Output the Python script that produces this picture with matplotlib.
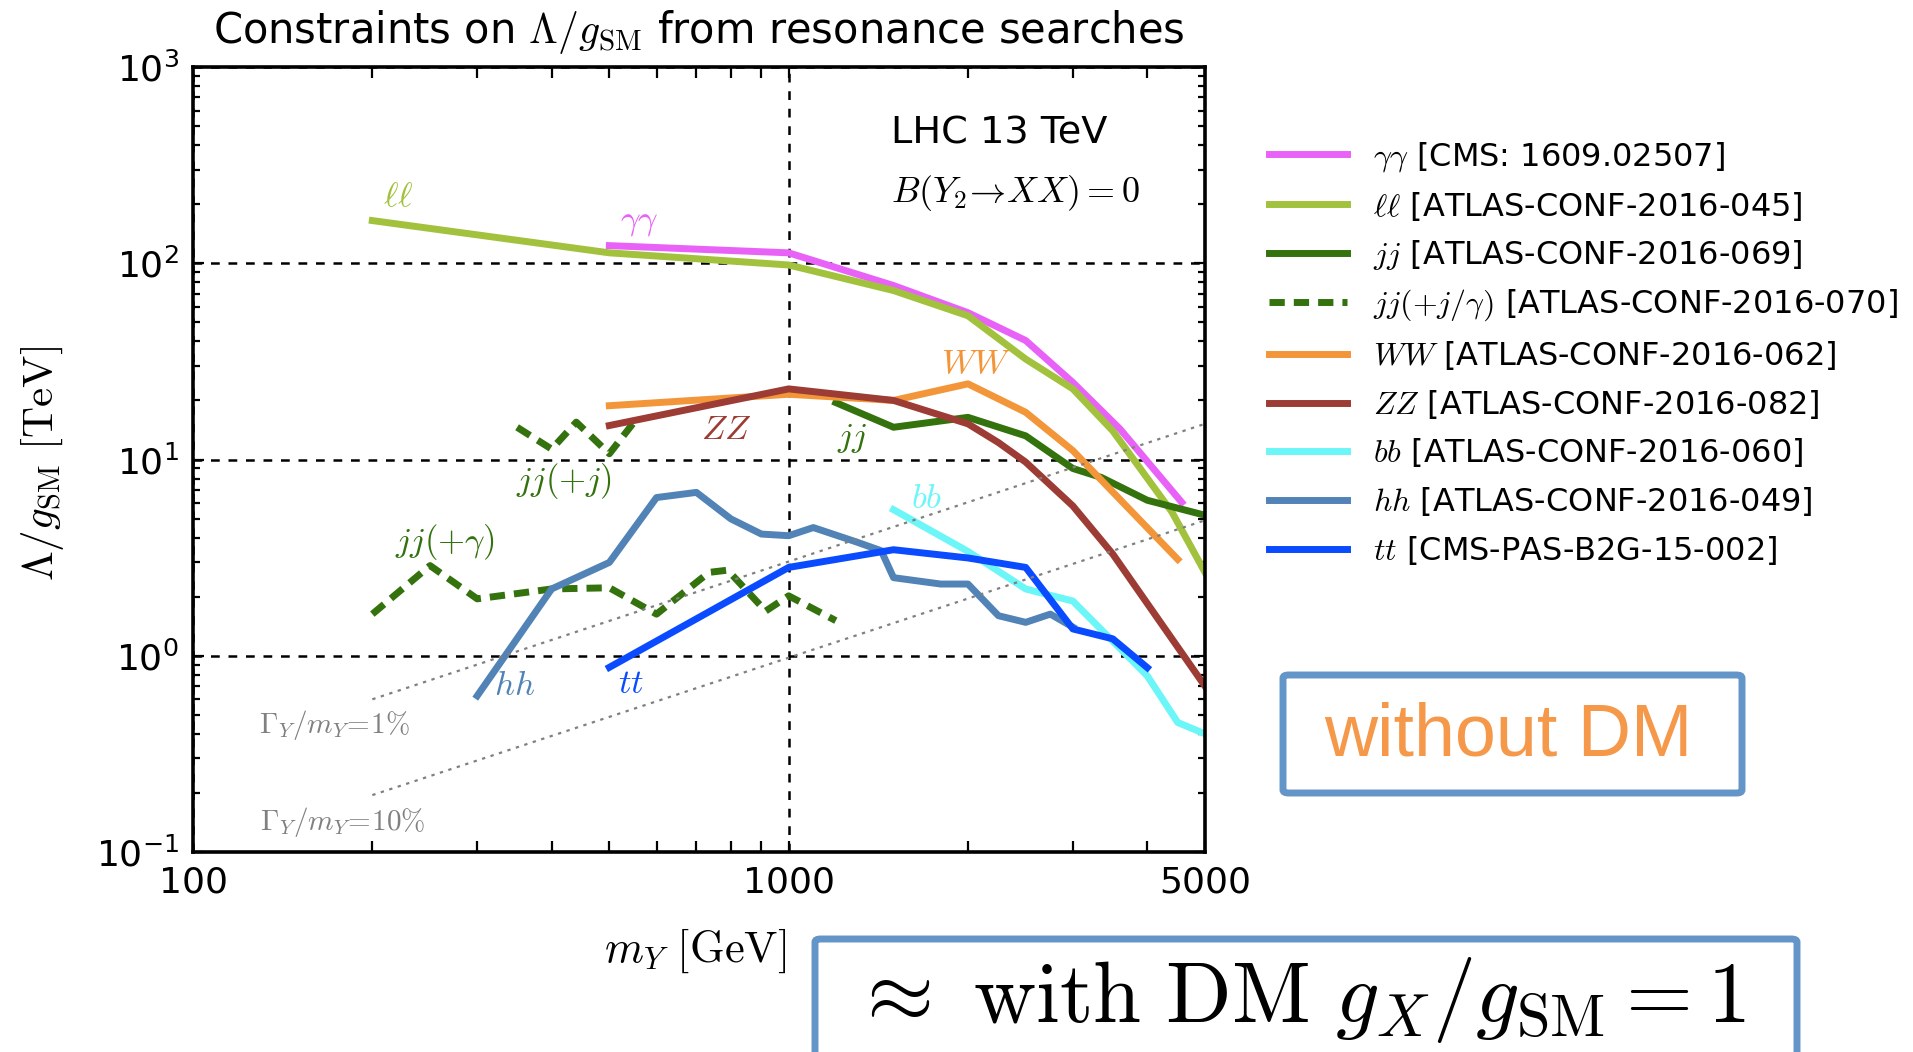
import matplotlib
matplotlib.use("Agg")
import matplotlib.pyplot as plt
from matplotlib.patches import FancyBboxPatch
from matplotlib.ticker import FixedLocator, LogLocator, NullFormatter, FixedFormatter

plt.rcParams["mathtext.fontset"] = "cm"
plt.rcParams["font.family"] = "DejaVu Sans"

# --- data (m_Y in GeV, Lambda/g_SM in TeV) ---
gg_m = [500, 1000, 1500, 2000, 2500, 3000, 3600, 4570]
gg_v = [123, 113, 77, 56, 40.4, 24.7, 14.3, 6.05]

ll_m = [200, 500, 1000, 1500, 2000, 2500, 3000, 3500, 4400, 5000]
ll_v = [165, 113, 98, 72.6, 54, 32.5, 22.9, 14.0, 5.4, 2.66]

jj_m = [1200, 1500, 2000, 2500, 3000, 3350, 4000, 5000]
jj_v = [19.5, 14.6, 16.4, 13.2, 9.0, 8.1, 6.2, 5.2]

jjj_m = [350, 400, 440, 500, 550]
jjj_v = [14.6, 11.3, 15.5, 10.7, 15.5]

jjg_m = [200, 250, 300, 400, 500, 600, 735, 790, 915, 1000, 1200]
jjg_v = [1.63, 2.88, 1.95, 2.19, 2.22, 1.63, 2.66, 2.73, 1.69, 2.02, 1.51]

ww_m = [500, 1000, 1500, 2000, 2500, 3000, 4500]
ww_v = [18.8, 21.5, 20.0, 24.3, 17.4, 11.1, 3.1]

zz_m = [500, 1000, 1500, 2000, 2250, 2500, 3000, 3500, 5000]
zz_v = [14.9, 22.9, 20.0, 15.2, 12.2, 9.7, 5.8, 3.3, 0.70]

bb_m = [1500, 2000, 2500, 3000, 4000, 4500, 5000]
bb_v = [5.55, 3.4, 2.19, 1.9, 0.79, 0.457, 0.40]

hh_m = [300, 400, 500, 600, 700, 800, 900, 1000, 1100, 1300, 1430, 1500,
        1800, 2000, 2250, 2500, 2750, 3000]
hh_v = [0.625, 2.19, 2.99, 6.4, 6.8, 4.98, 4.17, 4.09, 4.5, 3.8, 3.43, 2.5,
        2.32, 2.32, 1.6, 1.48, 1.63, 1.4]

tt_m = [500, 1000, 1500, 2000, 2500, 3000, 3500, 4000]
tt_v = [0.873, 2.82, 3.47, 3.15, 2.82, 1.37, 1.22, 0.87]

width_m = [200, 5000]
width_1pc = [0.6, 15.2]
width_10pc = [0.195, 4.9]

x_ticks = [100, 1000, 5000]
x_ticklabels = ["100", "1000", "5000"]

legend_labels = [
    r"$\gamma\gamma$ [CMS: 1609.02507]",
    r"$\ell\ell$ [ATLAS-CONF-2016-045]",
    r"$jj$ [ATLAS-CONF-2016-069]",
    r"$jj(+j/\gamma)$ [ATLAS-CONF-2016-070]",
    r"$WW$ [ATLAS-CONF-2016-062]",
    r"$ZZ$ [ATLAS-CONF-2016-082]",
    r"$bb$ [ATLAS-CONF-2016-060]",
    r"$hh$ [ATLAS-CONF-2016-049]",
    r"$tt$ [CMS-PAS-B2G-15-002]",
]

C_GG = "#E962F7"
C_LL = "#A2C23E"
C_JJ = "#33720D"
C_WW = "#F3963A"
C_ZZ = "#9C3C34"
C_BB = "#6CF6F8"
C_HH = "#5283B6"
C_TT = "#0A4BFF"

fig = plt.figure(figsize=(19.13, 10.52), dpi=100)
ax = fig.add_axes([0.1009, 0.1901, 0.529, 0.7462])

lw = 5
dash = (0, (2.2, 1.3))
ax.plot(gg_m, gg_v, color=C_GG, lw=lw, label=legend_labels[0])
ax.plot(ll_m, ll_v, color=C_LL, lw=lw, label=legend_labels[1])
ax.plot(jj_m, jj_v, color=C_JJ, lw=lw, label=legend_labels[2])
ax.plot(jjg_m, jjg_v, color=C_JJ, lw=lw, ls=dash, label=legend_labels[3])
ax.plot(jjj_m, jjj_v, color=C_JJ, lw=lw, ls=dash)
ax.plot(ww_m, ww_v, color=C_WW, lw=lw, label=legend_labels[4])
ax.plot(zz_m, zz_v, color=C_ZZ, lw=lw, label=legend_labels[5])
ax.plot(bb_m, bb_v, color=C_BB, lw=lw, label=legend_labels[6])
ax.plot(hh_m, hh_v, color=C_HH, lw=lw, label=legend_labels[7])
ax.plot(tt_m, tt_v, color=C_TT, lw=lw, label=legend_labels[8])

# width reference lines
ax.plot(width_m, width_1pc, color="gray", lw=1.6, ls=(0, (1.5, 2.5)))
ax.plot(width_m, width_10pc, color="gray", lw=1.6, ls=(0, (1.5, 2.5)))

ax.set_xscale("log")
ax.set_yscale("log")
ax.set_xlim(100, 5000)
ax.set_ylim(0.1, 1000)

ax.xaxis.set_major_locator(FixedLocator(x_ticks))
ax.xaxis.set_major_formatter(FixedFormatter(x_ticklabels))
ax.xaxis.set_minor_locator(LogLocator(base=10, subs=range(2, 10)))
ax.xaxis.set_minor_formatter(NullFormatter())
ax.yaxis.set_minor_formatter(NullFormatter())

ax.tick_params(which="both", direction="in", top=True, right=True, width=1.6)
ax.tick_params(which="major", length=8, labelsize=26)
ax.tick_params(axis="x", which="major", pad=10)
ax.tick_params(axis="y", which="major", pad=10)
ax.tick_params(axis="x", which="minor", length=8)
ax.tick_params(axis="y", which="minor", length=5)
for sp in ax.spines.values():
    sp.set_linewidth(2.6)

ax.grid(which="major", color="black", ls=(0, (3.5, 3.5)), lw=1.8)

# curve labels
lab = dict(fontsize=25, ha="center", va="center")
ax.text(221, 220, r"$\ell\ell$", color=C_LL, **lab)
ax.text(561, 164, r"$\gamma\gamma$", color=C_GG, **lab)
ax.text(2066, 31, r"$WW$", color=C_WW, **lab)
ax.text(785, 14.3, r"$ZZ$", color=C_ZZ, **lab)
ax.text(1278, 12.8, r"$jj$", color=C_JJ, **lab)
ax.text(420, 7.76, r"$jj(+j)$", color=C_JJ, **lab)
ax.text(265, 3.8, r"$jj(+\gamma)$", color=C_JJ, **lab)
ax.text(1706, 6.4, r"$bb$", color=C_BB, **lab)
ax.text(347, 0.71, r"$hh$", color=C_HH, **lab)
ax.text(543, 0.73, r"$tt$", color=C_TT, **lab)
ax.text(173, 0.444, r"$\Gamma_Y/m_Y\!=\!1\%$", color="gray", fontsize=21,
        ha="center", va="center")
ax.text(178, 0.143, r"$\Gamma_Y/m_Y\!=\!10\%$", color="gray", fontsize=21,
        ha="center", va="center")

ax.text(0.797, 0.915, "LHC 13 TeV", transform=ax.transAxes, fontsize=27.5,
        ha="center", va="center")
ax.text(0.813, 0.84, r"$B(Y_2\!\rightarrow\! XX)=0$", transform=ax.transAxes,
        fontsize=26, ha="center", va="center")

fig.text(699 / 1913, 1 - 43 / 1052,
         r"Constraints on $\Lambda/g_{\rm SM}$ from resonance searches",
         fontsize=30, ha="center", va="baseline")
fig.text(695 / 1913, 1 - 951 / 1052, r"$m_Y\ [\mathrm{GeV}]$", fontsize=32,
         ha="center", va="center")
fig.text(42 / 1913, 1 - 464 / 1052, r"$\Lambda/g_{\rm SM}\ [\mathrm{TeV}]$",
         fontsize=31, ha="center", va="center", rotation=90)

leg = fig.legend(loc="upper left", bbox_to_anchor=(1269 / 1913, 1 - 140 / 1052),
                 frameon=False, fontsize=23, handlelength=2.45,
                 handletextpad=0.8, labelspacing=0.49, borderpad=0,
                 borderaxespad=0)

# annotation boxes
box_col = "#6395C9"
b1 = FancyBboxPatch((1283 / 1913, 1 - 793 / 1052), 459 / 1913, 118 / 1052,
                    boxstyle="round,pad=0,rounding_size=0.003",
                    transform=fig.transFigure, fill=False, ec=box_col, lw=5)
fig.patches.append(b1)
fig.text(1508 / 1913, 1 - 736 / 1052, "without DM", color="#F5984A",
         fontsize=53, family="Liberation Sans", ha="center", va="center")

b2 = FancyBboxPatch((815 / 1913, -6 / 1052), 982 / 1913, 119 / 1052,
                    boxstyle="round,pad=0,rounding_size=0.003",
                    transform=fig.transFigure, fill=False, ec=box_col, lw=5)
fig.patches.append(b2)
fig.text(1298 / 1913, 1 - 1022 / 1052,
         r"$\approx\ \mathrm{with\ DM}\ g_X/g_{\mathrm{SM}}=1$",
         fontsize=62, ha="center", va="baseline")

fig.savefig("out.png", dpi=100)
